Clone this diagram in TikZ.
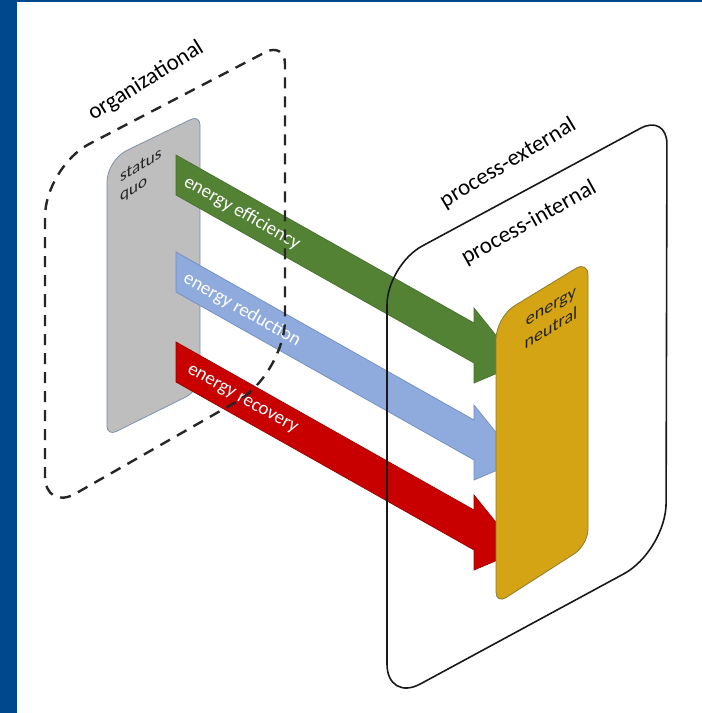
\documentclass[tikz,border=0pt]{standalone}
\usepackage{fontspec}
\setmainfont{Carlito}
\usepackage{tikz}
\usetikzlibrary{positioning,calc}
\definecolor{framec}{HTML}{00488E}
\definecolor{quoc}{HTML}{BEBEBE}
\definecolor{quoedge}{HTML}{7F90AE}
\definecolor{neutc}{HTML}{D4A414}
\definecolor{neutedge}{HTML}{8E7B30}
\definecolor{effc}{HTML}{548235}
\definecolor{effedge}{HTML}{476F2D}
\definecolor{reduc}{HTML}{8FAADC}
\definecolor{reduedge}{HTML}{6F8DC4}
\definecolor{recc}{HTML}{C80000}
\definecolor{recedge}{HTML}{9E0000}
\definecolor{labc}{HTML}{262626}
\tikzset{
  ringlabel/.style={font=\fontsize{23}{27}\selectfont, text=black, inner sep=0pt},
  bandtext/.style={font=\fontsize{19}{22}\selectfont, text=white, rotate=-29.5, inner sep=0pt},
  paneltext/.style={font=\fontsize{17}{19}\selectfont, text=labc, yslant=0.6, inner sep=0pt},
  orgbox/.style={draw=black!85, line width=2.4pt, dash pattern=on 11pt off 8pt},
  procbox/.style={draw=black!90, line width=1.6pt}
}
% one slanted band with its head; #1 shift down, #2 fill, #3 edge, #4 name, #5 text
\newcommand{\bandarrow}[5]{%
  \filldraw[fill=#2, draw=#3, line width=0.7pt]
    (176,155+#1) -- (474,323+#1) -- (474,308+#1) -- (519,364+#1)
    -- (474,383+#1) -- (474,363+#1) -- (176,195+#1) -- cycle;
  \node[bandtext] (#4) at (242,213+#1) {#5};}

\begin{document}
\begin{tikzpicture}[x=1pt, y=-1pt]
  \useasboundingbox (0,0) rectangle (702,713);
  \fill[white] (0,0) rectangle (702,713);
  \fill[framec] (0,0) rectangle (17,713);
  \fill[framec] (0,0) rectangle (702,1.5);
  % status quo panel
  \filldraw[fill=quoc, draw=quoedge, line width=0.8pt]
    (107,300) [rounded corners=22pt] -- (107,160) [rounded corners=10pt] -- (200,115)
    [rounded corners=16pt] -- (200,390) [rounded corners=10pt] -- (107,436) -- cycle;
  \node[paneltext, anchor=west, align=left] (quo) at (120,188) {status\\quo};
  % the three measures
  \bandarrow{0}{effc}{effedge}{eff}{energy efficiency}
  \bandarrow{97}{reduc}{reduedge}{redu}{energy reduction}
  \bandarrow{187}{recc}{recedge}{rec}{energy recovery}
  % energy neutral panel
  \filldraw[fill=neutc, draw=neutedge, line width=0.8pt]
    (496,450) [rounded corners=22pt] -- (496,317) [rounded corners=14pt] -- (588,261)
    [rounded corners=16pt] -- (588,545) [rounded corners=12pt] -- (496,604) -- cycle;
  \node[paneltext, font=\fontsize{18}{22}\selectfont, align=center] (neut) at (551,318) {energy\\neutral};
  % boundaries
  \draw[orgbox] (45,340) [rounded corners=50pt] -- (45,167) [rounded corners=22pt] -- (285,42)
    [rounded corners=55pt] -- (285,374) [rounded corners=35pt] -- (45,511) -- cycle;
  \draw[procbox] (387,480) [rounded corners=40pt] -- (387,265) [rounded corners=30pt] -- (667,114)
    [rounded corners=48pt] -- (666,551) [rounded corners=38pt] -- (387,702) -- cycle;
  \node[ringlabel, rotate=32] (org) at (146,81) {organizational};
  \node[ringlabel, rotate=31] (pext) at (508,163) {process-external};
  \node[ringlabel, rotate=29] (pint) at (529,223) {process-internal};
\end{tikzpicture}
\end{document}
